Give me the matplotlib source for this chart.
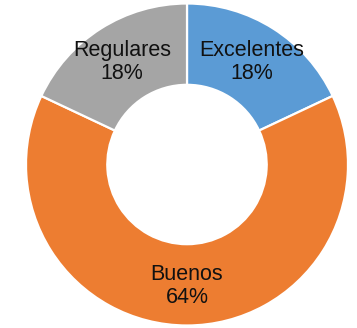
import numpy as np
import matplotlib
matplotlib.use("Agg")
import matplotlib.pyplot as plt

plt.rcParams['font.family'] = ['Liberation Sans', 'DejaVu Sans']

categories = ["Excelentes", "Buenos", "Regulares"]
values = [18, 64, 18]
colors = ["#5B9BD5", "#ED7D31", "#A5A5A5"]

W, H = 357, 328
fig = plt.figure(figsize=(W / 100, H / 100), dpi=100)
cx, cy, r = 187, 164.5, 161
ax = fig.add_axes([(cx - r) / W, (H - cy - r) / H, 2 * r / W, 2 * r / H])

wedges, _ = ax.pie(values, colors=colors, startangle=90, counterclock=False,
                   radius=1.0,
                   wedgeprops=dict(width=0.505, edgecolor="white", linewidth=1.6))

total = sum(values)
for w, cat, v in zip(wedges, categories, values):
    ang = np.deg2rad((w.theta1 + w.theta2) / 2)
    x, y = 0.755 * np.cos(ang), 0.755 * np.sin(ang)
    ax.text(x, y, f"{cat}\n{v / total * 100:.0f}%", ha="center", va="center",
            fontsize=15.5, color="#111111", linespacing=1.08)

ax.set_xlim(-1, 1)
ax.set_ylim(-1, 1)
ax.set_aspect("equal")
ax.axis("off")

fig.savefig("out.png", dpi=100)
